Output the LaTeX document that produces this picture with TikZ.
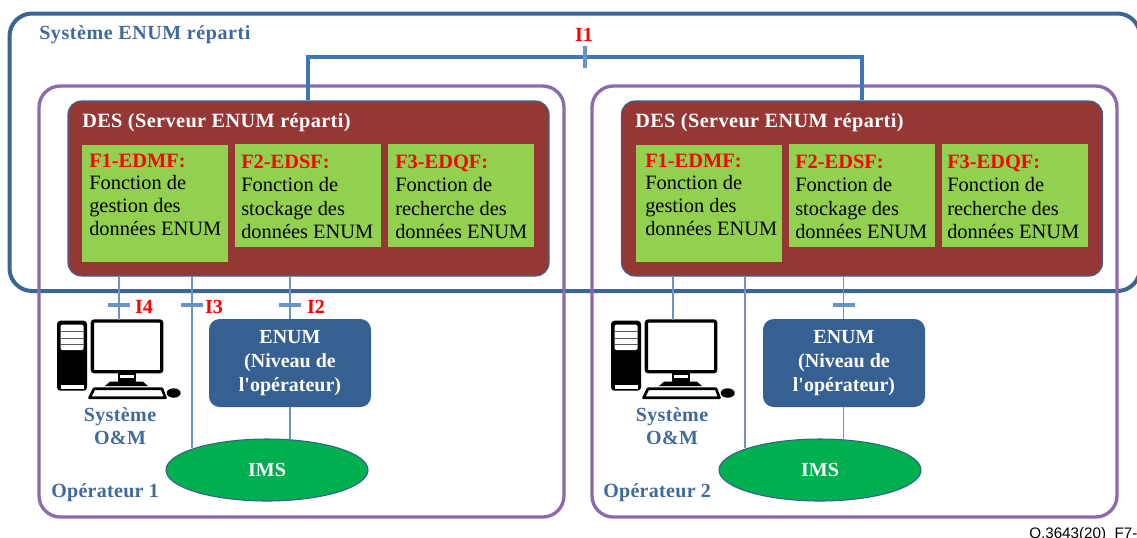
\documentclass[tikz,border=0pt]{standalone}
\usepackage{fontspec}
\setmainfont{Liberation Serif}
\newfontfamily\footfont{Liberation Sans}
\usetikzlibrary{calc,shapes.geometric}
\definecolor{outerblue}{HTML}{3B6592}
\definecolor{purp}{HTML}{8B6BAE}
\definecolor{desred}{HTML}{953735}
\definecolor{fgreen}{HTML}{92D050}
\definecolor{imsgreen}{HTML}{00B050}
\definecolor{enumblue}{HTML}{376092}
\definecolor{linkblue}{HTML}{3F76BA}
\definecolor{thinblue}{HTML}{6A94C6}
\definecolor{titleblue}{HTML}{3F6A9C}
\tikzset{
  x=0.75pt,y=-0.75pt,
  outerbox/.style={draw=outerblue,line width=3pt,rounded corners=17pt},
  opbox/.style={draw=purp,line width=2.5pt,rounded corners=16pt,inner sep=0pt,minimum width=525*0.75pt,minimum height=431*0.75pt},
  desbox/.style={draw=outerblue,line width=0.8pt,fill=desred,rounded corners=10pt,inner sep=0pt,minimum width=481*0.75pt,minimum height=175*0.75pt},
  fbox/.style={fill=fgreen,inner sep=0pt,minimum width=146*0.75pt},
  ftext/.style={anchor=north west,inner sep=0pt,align=left,font=\fontsize{15.3pt}{17pt}\selectfont},
  ftextb/.style={anchor=north west,inner sep=0pt,align=left,font=\fontsize{15.3pt}{17.6pt}\selectfont},
  enumbox/.style={fill=enumblue,rounded corners=8pt,inner sep=0pt,minimum width=162*0.75pt,minimum height=88*0.75pt,align=center,text=white,font=\bfseries\fontsize{15pt}{18.3pt}\selectfont},
  imsnode/.style={ellipse,draw=enumblue,line width=0.8pt,fill=imsgreen,inner sep=0pt,minimum width=202*0.75pt,minimum height=62*0.75pt,text=white,font=\bfseries\fontsize{15pt}{17pt}\selectfont},
  link/.style={draw=linkblue,line width=2.5pt},
  thin link/.style={draw=thinblue,line width=1.4pt},
  tick/.style={draw=thinblue,line width=3pt},
  iflabel/.style={text=red,inner sep=0pt,font=\bfseries\fontsize{15pt}{17pt}\selectfont},
  bluetitle/.style={text=titleblue,inner sep=0pt,font=\bfseries\fontsize{15pt}{18pt}\selectfont},
  omtitle/.style={text=titleblue,inner sep=0pt,align=center,font=\bfseries\fontsize{15pt}{17.25pt}\selectfont},
  destitle/.style={text=white,anchor=west,inner sep=0pt,font=\bfseries\fontsize{15.2pt}{17pt}\selectfont},
  pcicon/.pic={
    \coordinate (-top) at (62,0);
    \fill[black,rounded corners=2.5pt] (0,0.7) rectangle (30,70.7);
    \fill[white,rounded corners=1pt] (3.5,4.7) rectangle (26.5,30);
    \draw[black!65,line width=0.6pt] (3.5,11) -- (26.5,11) (3.5,18) -- (26.5,18) (3.5,24) -- (26.5,24);
    \fill[white] (3.5,65) rectangle (26.5,69);
    \draw[black,line width=2.5pt,fill=white,rounded corners=1.5pt] (35.4,1) rectangle (104.7,51.7);
    \fill[black] (60.5,52) rectangle (79,62);
    \fill[white] (63,54.7) rectangle (77,58);
    \fill[black] (48,66) -- (53,61.7) -- (86,61.7) -- (91,66) -- cycle;
    \draw[black,line width=2pt,fill=white,line join=round] (32.5,77.8) -- (37,68.8) -- (105,68.8) -- (108.5,77.8) -- cycle;
    \fill[black] (116.7,73) ellipse (7 and 4.7);
  }
}
\begin{document}
\begin{tikzpicture}
\useasboundingbox (0,0) rectangle (1137,537);
\clip (0,0) rectangle (1137,537);
\fill[white] (0,0) rectangle (1137,537);
% outer system
\draw[outerbox] (9.5,291) rectangle (1140,13.5);
\node[bluetitle,anchor=west] (systitle) at (39,34.5) {\addfontfeature{LetterSpace=3}Système ENUM réparti};
% operator frames
\node[opbox] (op1) at (301.5,301.5) {};
\node[opbox] (op2) at (854.5,301.5) {};
% I1 coordinates
\coordinate (i1a) at (308,57);
\coordinate (i1b) at (862,57);
\coordinate (i1m) at (584.5,57);
% DES boxes
\node[desbox] (des1) at (308.5,188.5) {};
\node[desbox] (des2) at (862,188.5) {};
\draw[link] (des1.north -| i1a) -- (i1a) -- (i1b) -- (des2.north -| i1b);
\draw[tick] ($(i1m)+(0,-11)$) -- ($(i1m)+(0,11)$);
\node[iflabel] (i1) at (584,35) {I1};
\node[destitle] (d1t) at (82,123) {\addfontfeature{LetterSpace=2}DES (Serveur ENUM réparti)};
\node[destitle] (d2t) at (635,123) {\addfontfeature{LetterSpace=2}DES (Serveur ENUM réparti)};
% function boxes
\node[fbox,minimum height=117*0.75pt] (f1a) at (155,203.5) {};
\node[fbox,minimum height=103*0.75pt] (f2a) at (308,195.5) {};
\node[fbox,minimum height=103*0.75pt] (f3a) at (461,195.5) {};
\node[fbox,minimum height=117*0.75pt] (f1b) at (709,203.5) {};
\node[fbox,minimum height=103*0.75pt] (f2b) at (862,195.5) {};
\node[fbox,minimum height=103*0.75pt] (f3b) at (1015,195.5) {};
\node[ftext] (t1a) at (89,153.5) {{\bfseries\color{red}F1-EDMF:}\\Fonction de\\gestion des\\données ENUM};
\node[ftextb] (t2a) at (241,154.5) {{\bfseries\color{red}F2-EDSF:}\\Fonction de\\stockage des\\données ENUM};
\node[ftextb] (t3a) at (395,154.5) {{\bfseries\color{red}F3-EDQF:}\\Fonction de\\recherche des\\données ENUM};
\node[ftext] (t1b) at (645,153.5) {{\bfseries\color{red}F1-EDMF:}\\Fonction de\\gestion des\\données ENUM};
\node[ftextb] (t2b) at (795,154.5) {{\bfseries\color{red}F2-EDSF:}\\Fonction de\\stockage des\\données ENUM};
\node[ftextb] (t3b) at (947,154.5) {{\bfseries\color{red}F3-EDQF:}\\Fonction de\\recherche des\\données ENUM};
% lower nodes
\node[enumbox] (en1) at (290,363) {ENUM\\(Niveau de\\l\textquotesingle opérateur)};
\node[enumbox] (en2) at (844,363) {ENUM\\(Niveau de\\l\textquotesingle opérateur)};
\node[imsnode] (ims1) at (267,470) {IMS};
\node[imsnode] (ims2) at (820,470) {IMS};
\pic (pc1) at (57,320) {pcicon};
\pic (pc2) at (611,320) {pcicon};
\node[omtitle] (om1) at (120,426) {\addfontfeature{LetterSpace=2}Système\\\addfontfeature{LetterSpace=2}O\&M};
\node[omtitle] (om2) at (672,426) {\addfontfeature{LetterSpace=2}Système\\\addfontfeature{LetterSpace=2}O\&M};
\node[bluetitle,anchor=west] (op1t) at (51,492.5) {\addfontfeature{LetterSpace=1.5}Opérateur 1};
\node[bluetitle,anchor=west] (op2t) at (603,492.5) {\addfontfeature{LetterSpace=1.5}Opérateur 2};
% thin connectors
\coordinate (c4) at (119,305);
\coordinate (c3) at (192,305);
\coordinate (c2) at (290,305);
\coordinate (d4) at (673,305);
\coordinate (d3) at (745,305);
\coordinate (d2) at (843.5,305);
\draw[thin link] (des1.south -| c4) -- (pc1-top -| c4);
\draw[thin link] (des1.south -| c3) -- (c3) -- ($(ims1.north -| c3)+(0,10)$);
\draw[thin link] (des1.south -| c2) -- (en1.north -| c2);
\draw[thin link] (en1.south -| c2) -- ($(ims1.north -| c2)+(0,1)$);
\draw[thin link] (des2.south -| d4) -- (pc2-top -| d4);
\draw[thin link] (des2.south -| d3) -- (d3) -- ($(ims2.north -| d3)+(0,10)$);
\draw[thin link] (des2.south -| d2) -- (en2.north -| d2);
\draw[thin link] (en2.south -| d2) -- ($(ims2.north -| d2)+(0,1)$);
\foreach \c in {c4,c3,c2,d2} \draw[tick] ($(\c)+(-11,0)$) -- ($(\c)+(11,0)$);
\node[iflabel] (i4) at (144,306.5) {I4};
\node[iflabel] (i3) at (214,306.5) {I3};
\node[iflabel] (i2) at (316,306.5) {I2};
\node[anchor=base west,inner sep=0pt,font=\footfont\fontsize{11.4pt}{13pt}\selectfont] (ref) at (1029,538) {Q.3643(20)\_F7-};
\end{tikzpicture}
\end{document}
